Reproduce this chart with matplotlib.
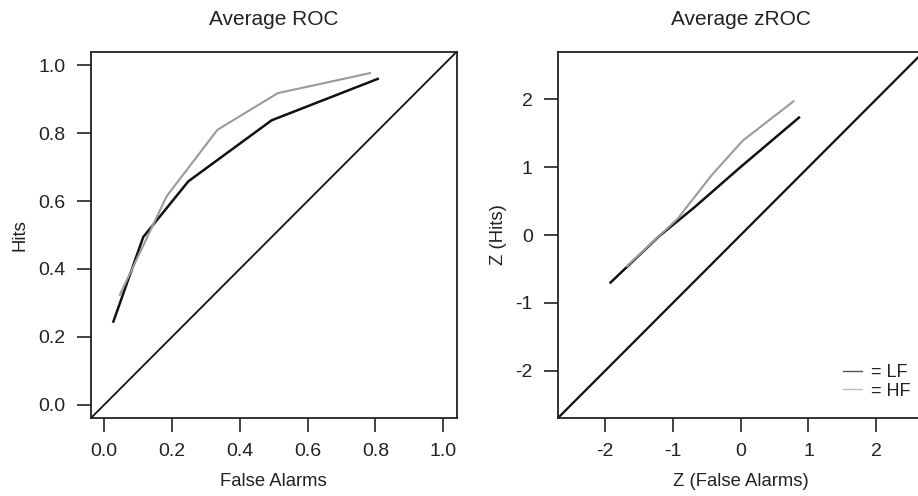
import matplotlib

matplotlib.use("Agg")
import matplotlib.pyplot as plt
from matplotlib.lines import Line2D

plt.rcParams["font.family"] = ["Liberation Sans", "DejaVu Sans"]
plt.rcParams["axes.unicode_minus"] = False

# ROC points (false alarm rate, hit rate) for the two conditions
lf_fa = [0.027, 0.115, 0.248, 0.494, 0.807]
lf_hit = [0.245, 0.494, 0.658, 0.838, 0.960]
hf_fa = [0.046, 0.184, 0.334, 0.512, 0.784]
hf_hit = [0.324, 0.614, 0.810, 0.918, 0.977]

# the same points on the z scale
lf_zfa = [-1.92, -1.20, -0.68, -0.015, 0.86]
lf_zhit = [-0.70, -0.015, 0.41, 0.99, 1.73]
hf_zfa = [-1.68, -0.93, -0.43, 0.03, 0.78]
hf_zhit = [-0.46, 0.24, 0.88, 1.39, 1.97]

roc_ticks = [0.0, 0.2, 0.4, 0.6, 0.8, 1.0]
z_ticks = [-2, -1, 0, 1, 2]
legend_labels = ["= LF", "= HF"]

TEXT = "#222222"
LF_COL = "#111111"
HF_COL = "#9a9a9a"

fig = plt.figure(figsize=(9.18, 4.96), dpi=100)
ax1 = fig.add_axes([0.0988, 0.1567, 0.3987, 0.739])
ax2 = fig.add_axes([0.6075, 0.1567, 0.3987, 0.739])


def style_axes(ax, ticks, lim):
    ax.set_xlim(*lim)
    ax.set_ylim(*lim)
    ax.set_xticks(ticks)
    ax.set_yticks(ticks)
    for sp in ax.spines.values():
        sp.set_linewidth(1.3)
        sp.set_color("#222222")
    ax.tick_params(length=10, width=1.2, color="#222222", labelsize=14,
                   labelcolor=TEXT, pad=8)


# ROC panel
ax1.axline((0, 0), slope=1, color="#111111", lw=1.3)
ax1.plot(lf_fa, lf_hit, color=LF_COL, lw=1.8)
ax1.plot(hf_fa, hf_hit, color=HF_COL, lw=1.5)
style_axes(ax1, roc_ticks, (-0.04, 1.04))
ax1.set_xticklabels([f"{t:.1f}" for t in roc_ticks])
ax1.set_yticklabels([f"{t:.1f}" for t in roc_ticks])
ax1.set_title("Average ROC", fontsize=15, color=TEXT, pad=19)
ax1.set_xlabel("False Alarms", fontsize=13.3, color=TEXT, labelpad=9)
ax1.set_ylabel("Hits", fontsize=13.3, color=TEXT, labelpad=7)

# zROC panel
ax2.axline((0, 0), slope=1, color="#111111", lw=1.6)
ax2.plot(lf_zfa, lf_zhit, color=LF_COL, lw=1.8)
ax2.plot(hf_zfa, hf_zhit, color=HF_COL, lw=1.5)
style_axes(ax2, z_ticks, (-2.7, 2.7))
ax2.set_title("Average zROC", fontsize=15, color=TEXT, pad=19)
ax2.set_xlabel("Z (False Alarms)", fontsize=13.3, color=TEXT, labelpad=9)
ax2.set_ylabel("Z (Hits)", fontsize=13.3, color=TEXT, labelpad=6)

handles = [Line2D([], [], color="#555555", lw=1.0),
           Line2D([], [], color="#bbbbbb", lw=1.0)]
ax2.legend(handles, legend_labels, loc="lower right", bbox_to_anchor=(0.985, 0.031),
           frameon=False, fontsize=13, handlelength=1.1, handletextpad=0.5,
           labelspacing=0.1, borderaxespad=0, labelcolor=TEXT)

fig.savefig("out.png", dpi=100)
